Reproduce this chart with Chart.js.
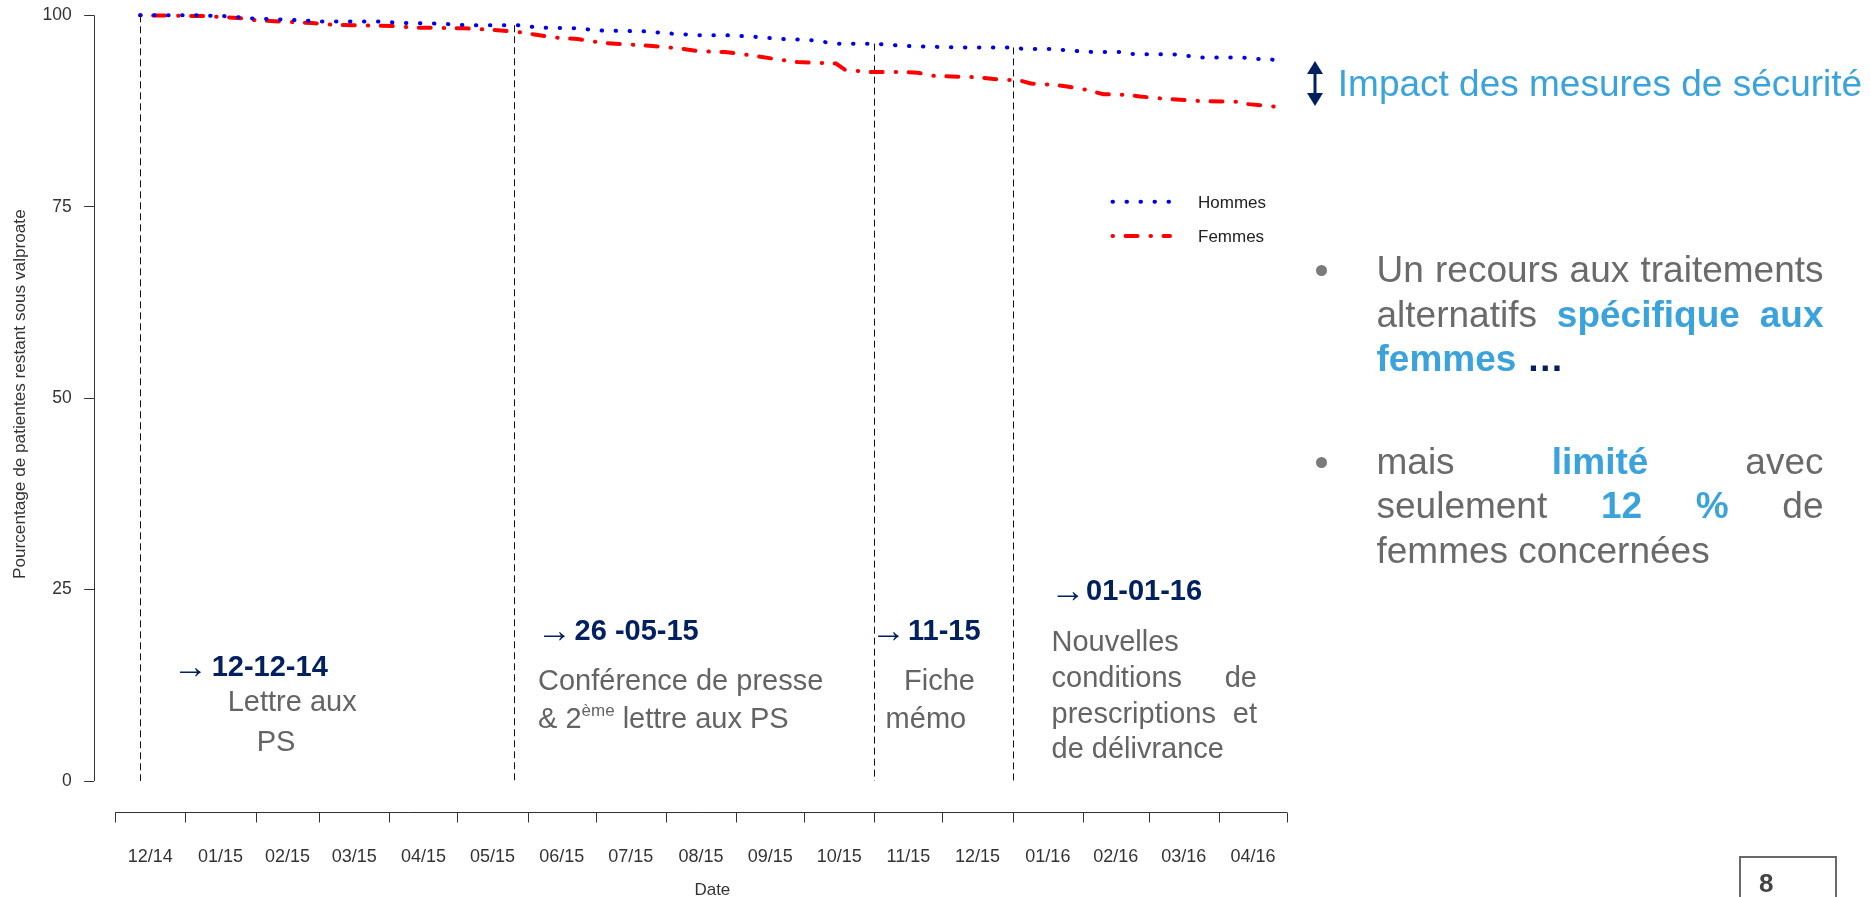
<!DOCTYPE html>
<html><head><meta charset="utf-8">
<script src="https://cdn.jsdelivr.net/npm/chart.js@4.4.1/dist/chart.umd.min.js"></script>
<style>
html,body{margin:0;padding:0;background:#fff;}
#wrap{position:relative;width:1870px;height:897px;overflow:hidden;font-family:"Liberation Sans",Arial,sans-serif;}
#c{position:absolute;left:0;top:0;}
.t{position:absolute;white-space:nowrap;line-height:1;}
.nv{color:#002060;font-weight:bold;font-size:29px;}
.ar{color:#002060;font-size:35px;}
.gr{color:#646464;font-size:29px;}
.bl{color:#3ba3dc;font-weight:bold;}
.bt{position:absolute;left:1376.5px;width:447px;line-height:1;font-size:37px;color:#6a6a6a;white-space:nowrap;}
.j{text-align:justify;text-align-last:justify;white-space:normal;}
.dot{position:absolute;width:11px;height:11px;border-radius:50%;background:#7a7a7a;}
</style></head>
<body>
<div id="wrap">
<canvas id="c" width="1870" height="897"></canvas>

<!-- annotations -->
<div class="t ar" style="left:173px;top:648.4px;">→</div>
<div class="t nv" style="left:211.7px;top:651.5px;">12-12-14</div>
<div class="t gr" style="left:227.7px;top:687.1px;">Lettre aux</div>
<div class="t gr" style="left:256.7px;top:726.5px;">PS</div>

<div class="t ar" style="left:537px;top:612.4px;">→</div>
<div class="t nv" style="left:574.6px;top:615.5px;">26 -05-15</div>
<div class="t gr" style="left:538px;top:666px;">Conférence de presse</div>
<div class="t gr" style="left:538px;top:703.5px;">&amp; 2<span style="font-size:17px;position:relative;top:-12px;">ème</span> lettre aux PS</div>

<div class="t ar" style="left:871px;top:612.4px;">→</div>
<div class="t nv" style="left:908px;top:615.5px;">11-15</div>
<div class="t gr" style="left:904px;top:666px;">Fiche</div>
<div class="t gr" style="left:885.6px;top:703.5px;">mémo</div>

<div class="t ar" style="left:1050.4px;top:572.4px;">→</div>
<div class="t nv" style="left:1086px;top:575.5px;">01-01-16</div>
<div class="t gr" style="left:1051.5px;top:627px;">Nouvelles</div>
<div class="t gr j" style="left:1051.5px;top:662.5px;width:205.5px;">conditions de</div>
<div class="t gr j" style="left:1051.5px;top:698.5px;width:205.5px;">prescriptions et</div>
<div class="t gr" style="left:1051.5px;top:734px;">de délivrance</div>

<!-- right panel -->
<svg style="position:absolute;left:1306px;top:61px;" width="18" height="45" viewBox="0 0 18 45">
  <polygon points="9,0 17,13 1,13" fill="#002060"/>
  <polygon points="9,45 17,32 1,32" fill="#002060"/>
  <rect x="7.5" y="12" width="3" height="21" fill="#002060"/>
</svg>
<div class="t" style="left:1337.8px;top:64.7px;font-size:37px;color:#3ba3dc;">Impact des mesures de sécurité</div>

<div class="dot" style="left:1315.5px;top:264.5px;"></div>
<div class="bt j" style="top:250.7px;">Un recours aux traitements</div>
<div class="bt j" style="top:295.7px;">alternatifs <span class="bl">spécifique aux</span></div>
<div class="bt" style="top:339.7px;"><span class="bl">femmes</span> <span style="color:#002060;font-weight:bold;">…</span></div>

<div class="dot" style="left:1315.5px;top:457.2px;"></div>
<div class="bt j" style="top:442.7px;">mais <span class="bl">limité</span> avec</div>
<div class="bt j" style="top:487px;">seulement <span class="bl">12</span> <span class="bl">%</span> de</div>
<div class="bt" style="top:532px;">femmes concernées</div>

<div style="position:absolute;left:1739px;top:856px;width:94px;height:60px;border:2px solid #6a6a6a;"></div>
<div class="t" style="left:1759px;top:869.7px;font-size:26px;font-weight:bold;color:#444;">8</div>
</div>

<script>
// ---------- data ----------
const monthLabels = ['12/14','01/15','02/15','03/15','04/15','05/15','06/15','07/15','08/15','09/15','10/15','11/15','12/15','01/16','02/16','03/16','04/16'];
const monthStarts = ['2014-12-01','2015-01-01','2015-02-01','2015-03-01','2015-04-01','2015-05-01','2015-06-01','2015-07-01','2015-08-01','2015-09-01','2015-10-01','2015-11-01','2015-12-01','2016-01-01','2016-02-01','2016-03-01','2016-04-01','2016-05-01'];
const yTicks = [0, 25, 50, 75, 100];

const hommesDates = ['2014-12-12','2015-01-06','2015-01-18','2015-01-30','2015-02-17','2015-03-01','2015-03-26','2015-04-07','2015-04-24','2015-05-06','2015-05-30','2015-06-05','2015-06-22','2015-07-04','2015-07-23','2015-08-04','2015-08-16','2015-08-28','2015-09-09','2015-09-21','2015-10-03','2015-10-15','2015-11-01','2015-11-14','2015-11-26','2015-12-08','2016-01-01','2016-01-06','2016-01-19','2016-01-25','2016-02-06','2016-02-18','2016-02-24','2016-03-12','2016-03-24','2016-04-11','2016-04-17','2016-04-23','2016-04-30'];
const hommesValues = [100,100,99.9,99.6,99.4,99.2,99.2,99.0,98.9,98.7,98.7,98.4,98.3,98.0,97.9,97.6,97.4,97.4,97.2,96.9,96.8,96.3,96.3,96.0,95.9,95.8,95.8,95.6,95.6,95.4,95.2,95.2,94.9,94.9,94.5,94.5,94.3,94.3,93.9];

const femmesDates = ['2014-12-12','2015-01-10','2015-01-16','2015-01-26','2015-01-30','2015-02-11','2015-02-26','2015-03-05','2015-03-16','2015-04-02','2015-04-12','2015-05-04','2015-05-16','2015-05-26','2015-06-04','2015-06-13','2015-06-23','2015-07-04','2015-07-15','2015-07-26','2015-08-06','2015-08-16','2015-08-27','2015-09-07','2015-09-18','2015-09-28','2015-10-15','2015-10-19','2015-10-29','2015-11-15','2015-11-20','2015-11-27','2015-12-17','2015-12-26','2016-01-04','2016-01-09','2016-01-20','2016-01-25','2016-02-02','2016-02-10','2016-02-21','2016-02-26','2016-03-08','2016-03-24','2016-04-09','2016-04-14','2016-04-25','2016-04-30'];
const femmesValues = [100,99.9,99.8,99.6,99.4,99.2,99.0,98.8,98.7,98.6,98.4,98.3,98.1,97.9,97.5,97.1,96.9,96.4,96.2,96.0,95.7,95.3,95.2,94.8,94.3,93.9,93.7,92.9,92.6,92.6,92.5,92.1,91.9,91.6,91.5,91.1,90.9,90.7,90.3,89.7,89.6,89.4,89.1,88.8,88.7,88.4,88.1,87.8];

const eventDates = ['2014-12-12','2015-05-26','2015-11-01','2016-01-01'];
const seriesNames = ['Hommes','Femmes'];
const yTitle = 'Pourcentage de patientes restant sous valproate';
const xTitle = 'Date';

// ---------- helpers ----------
const ORIGIN = Date.UTC(2014, 11, 1);
function day(s){ const p = s.split('-').map(Number); return (Date.UTC(p[0], p[1]-1, p[2]) - ORIGIN) / 86400000; }
const startDays = monthStarts.map(day);
const monthMid = monthLabels.map((_, i) => (startDays[i] + startDays[i+1]) / 2);
function interp(dates, vals, d){
  const xs = dates.map(day);
  if (d <= xs[0]) return vals[0];
  for (let i = 1; i < xs.length; i++) {
    if (d <= xs[i]) { const t = (d - xs[i-1]) / (xs[i] - xs[i-1]); return vals[i-1] + t * (vals[i] - vals[i-1]); }
  }
  return vals[vals.length-1];
}

const FONT = '"Liberation Sans", Arial, sans-serif';
Chart.defaults.font.family = FONT;

const axesPlugin = {
  id: 'axesPlugin',
  beforeDatasetsDraw(chart){
    const {ctx, scales:{x, y}} = chart;
    ctx.save();
    ctx.strokeStyle = '#111';
    ctx.lineWidth = 1;
    ctx.setLineDash([7, 4]);
    eventDates.forEach(d => {
      const dv = day(d);
      const top = interp(hommesDates, hommesValues, dv);
      const px = Math.round(x.getPixelForValue(dv)) + 0.5;
      ctx.beginPath();
      ctx.moveTo(px, y.getPixelForValue(top));
      ctx.lineTo(px, y.getPixelForValue(0));
      ctx.stroke();
    });
    ctx.restore();
  },
  afterDraw(chart){
    const {ctx, scales:{x, y}, chartArea} = chart;
    ctx.save();
    ctx.strokeStyle = '#333';
    ctx.lineWidth = 1;
    // y axis line
    const ax = Math.round(chartArea.left) + 0.5;
    ctx.beginPath();
    ctx.moveTo(ax, y.getPixelForValue(0));
    ctx.lineTo(ax, y.getPixelForValue(100));
    ctx.stroke();
    // x axis line + month ticks
    const ay = Math.round(chartArea.bottom) + 0.5;
    ctx.beginPath();
    ctx.moveTo(x.getPixelForValue(startDays[0]), ay);
    ctx.lineTo(x.getPixelForValue(startDays[startDays.length-1]), ay);
    startDays.forEach(d => {
      const px = Math.round(x.getPixelForValue(d)) + 0.5;
      ctx.moveTo(px, ay);
      ctx.lineTo(px, ay + 10);
    });
    ctx.stroke();
    // y title
    ctx.save();
    ctx.fillStyle = '#333';
    ctx.font = '17.2px ' + FONT;
    ctx.textAlign = 'center';
    ctx.textBaseline = 'middle';
    ctx.translate(20, y.getPixelForValue(50) - 4);
    ctx.rotate(-Math.PI / 2);
    ctx.fillText(yTitle, 0, 0);
    ctx.restore();
    // legend
    const rows = [201.7, 236];
    chart.data.datasets.forEach((ds, i) => {
      ctx.save();
      ctx.strokeStyle = ds.borderColor;
      ctx.lineWidth = ds.borderWidth;
      ctx.lineCap = 'round';
      ctx.setLineDash(ds.borderDash);
      ctx.beginPath();
      ctx.moveTo(1112.5, rows[i]);
      ctx.lineTo(1170, rows[i]);
      ctx.stroke();
      ctx.restore();
      ctx.fillStyle = '#222';
      ctx.font = '17px ' + FONT;
      ctx.textBaseline = 'middle';
      ctx.textAlign = 'left';
      ctx.fillText(ds.label, 1198, rows[i] + 1.5);
    });
    ctx.restore();
  }
};

new Chart(document.getElementById('c'), {
  type: 'line',
  data: {
    datasets: [
      { label: seriesNames[0], data: hommesDates.map((d, i) => ({x: day(d), y: hommesValues[i]})),
        borderColor: '#0000ee', borderWidth: 4, borderDash: [0.5, 13.5], borderCapStyle: 'round', pointRadius: 0, fill: false, tension: 0 },
      { label: seriesNames[1], data: femmesDates.map((d, i) => ({x: day(d), y: femmesValues[i]})),
        borderColor: '#ff0000', borderWidth: 4, borderDash: [0.5, 12.5, 12, 13], borderCapStyle: 'round', pointRadius: 0, fill: false, tension: 0 }
    ]
  },
  options: {
    responsive: false,
    animation: false,
    devicePixelRatio: 1,
    layout: { padding: { left: 0, right: 539.5, top: 0, bottom: 0 } },
    plugins: { legend: { display: false }, tooltip: { enabled: false } },
    scales: {
      x: {
        type: 'linear', min: -9.265, max: 536.2,
        afterBuildTicks: s => { s.ticks = monthMid.map(v => ({value: v})); },
        afterFit: s => { s.height = 85.3; s.paddingLeft = 0; s.paddingRight = 0; },
        grid: { display: false }, border: { display: false },
        ticks: { autoSkip: false, maxRotation: 0, minRotation: 0, padding: 27, color: '#333', font: { size: 18 },
                 callback: (v, i) => monthLabels[i] },
        title: { display: true, text: xTitle, color: '#333', font: { size: 17, lineHeight: 0.76 }, padding: { top: 0, bottom: 0 } }
      },
      y: {
        min: -4, max: 102,
        afterBuildTicks: s => { s.ticks = yTicks.map(v => ({value: v})); },
        afterFit: s => { s.width = 94.2; s.paddingTop = 0; s.paddingBottom = 0; },
        grid: { drawOnChartArea: false, drawTicks: true, tickLength: 10, color: '#333', lineWidth: 1 },
        border: { display: false },
        ticks: { padding: 12.5, color: '#333', font: { size: 17.5 }, callback: v => String(v) },
        title: { display: false }
      }
    }
  },
  plugins: [axesPlugin]
});
</script>
</body></html>
